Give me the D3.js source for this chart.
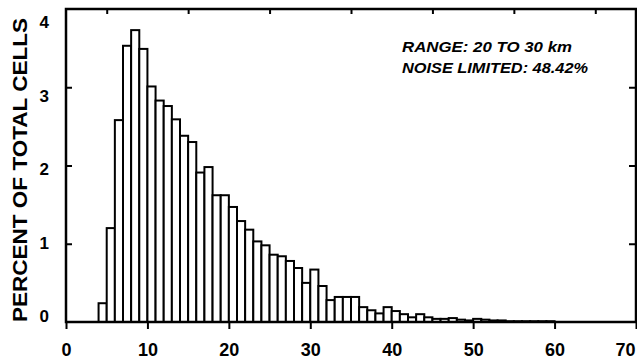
<!DOCTYPE html>
<html><head><meta charset="utf-8">
<script src="https://cdn.jsdelivr.net/npm/d3@7"></script>
<style>
body{margin:0;background:#fff;}
svg{display:block;}
text{font-family:"Liberation Sans",Arial,Helvetica,sans-serif;fill:#000;}
</style></head>
<body>
<svg id="chart" width="637" height="360"></svg>
<script>
// Data: bin start, percent of total cells
const binStarts = [4,5,6,7,8,9,10,11,12,13,14,15,16,17,18,19,20,21,22,23,24,25,26,27,28,29,30,31,32,33,34,35,36,37,38,39,40,41,42,43,44,45,46,47,48,49,50,51,52,53,54,55,56,57,58,59];
const percents = [0.24,1.20,2.58,3.53,3.73,3.49,3.01,2.83,2.76,2.59,2.38,2.30,1.91,1.98,1.62,1.62,1.47,1.29,1.18,1.03,0.98,0.86,0.84,0.78,0.69,0.50,0.67,0.46,0.28,0.32,0.32,0.32,0.19,0.15,0.11,0.19,0.14,0.10,0.06,0.10,0.06,0.04,0.04,0.05,0.03,0.02,0.04,0.03,0.02,0.02,0.01,0.01,0.01,0.01,0.01,0.01];
const xTicks = [0,10,20,30,40,50,60,70];
const xTopTicks = [5,15,25,35,45,55,65];
const yTicks = [0,1,2,3,4];
const yTitle = "PERCENT OF TOTAL CELLS";
const notes = ["RANGE: 20 TO 30 km","NOISE LIMITED: 48.42%"];
const noteLengths = [170,186];

const svg = d3.select("#chart");
const x = d3.scaleLinear().domain([0,70]).range([66,636]);
const y = d3.scaleLinear().domain([0,4]).range([322,9]);
const yLab = d3.scaleLinear().domain([0,4]).range([316,22]);

// bars
svg.append("g").selectAll("rect").data(binStarts).join("rect")
  .attr("x",(d)=>x(d))
  .attr("width",(d)=>x(d+1)-x(d))
  .attr("y",(d,i)=>y(percents[i]))
  .attr("height",(d,i)=>y(0)-y(percents[i]))
  .attr("fill","#fff").attr("stroke","#000").attr("stroke-width",2);

// frame
svg.append("rect").attr("x",x(0)).attr("y",y(4)).attr("width",x(70)-x(0)).attr("height",y(0)-y(4))
  .attr("fill","none").attr("stroke","#000").attr("stroke-width",2.5);

// bottom axis (ticks outward)
const gb = svg.append("g").attr("transform",`translate(0,${y(0)})`)
  .call(d3.axisBottom(x).tickValues(xTicks).tickSize(7).tickFormat(d3.format("d")).tickPadding(14));
gb.select(".domain").remove();
gb.selectAll("line").attr("stroke","#000").attr("stroke-width",2);
gb.selectAll("text").attr("font-size",18).attr("font-weight","bold").attr("fill","#000")
  .attr("text-anchor",(d)=>d===70?"end":"middle")
  .attr("dx",(d)=>d===70?"-1":"0");

// top ticks (inward)
const gt = svg.append("g").attr("transform",`translate(0,${y(4)})`)
  .call(d3.axisTop(x).tickValues(xTopTicks).tickSize(-5).tickFormat(""));
gt.select(".domain").remove();
gt.selectAll("line").attr("stroke","#000").attr("stroke-width",2);

// left ticks (inward)
const gl = svg.append("g").attr("transform",`translate(${x(0)},0)`)
  .call(d3.axisLeft(y).tickValues([1,2,3]).tickSize(-6).tickFormat(""));
gl.select(".domain").remove();
gl.selectAll("line").attr("stroke","#000").attr("stroke-width",2);

// right ticks (inward)
const gr = svg.append("g").attr("transform",`translate(${x(70)},0)`)
  .call(d3.axisRight(y).tickValues([1,2,3]).tickSize(-7).tickFormat(""));
gr.select(".domain").remove();
gr.selectAll("line").attr("stroke","#000").attr("stroke-width",2);

// y tick labels
svg.append("g").selectAll("text").data(yTicks).join("text")
  .attr("x",49).attr("y",(d)=>yLab(d)).attr("dy","0.36em")
  .attr("text-anchor","end").attr("font-size",17).attr("font-weight","bold")
  .text((d)=>d);

// y title
svg.append("text").attr("transform","translate(27,170) rotate(-90)")
  .attr("text-anchor","middle").attr("font-size",21).attr("font-weight","bold")
  .attr("textLength",304).attr("lengthAdjust","spacingAndGlyphs")
  .text(yTitle);

// annotation
svg.append("g").selectAll("text").data(notes).join("text")
  .attr("x",402).attr("y",(d,i)=>52+i*21)
  .attr("font-size",15).attr("font-weight","bold").attr("font-style","italic")
  .attr("textLength",(d,i)=>noteLengths[i]).attr("lengthAdjust","spacingAndGlyphs")
  .text((d)=>d);
</script>
</body></html>
